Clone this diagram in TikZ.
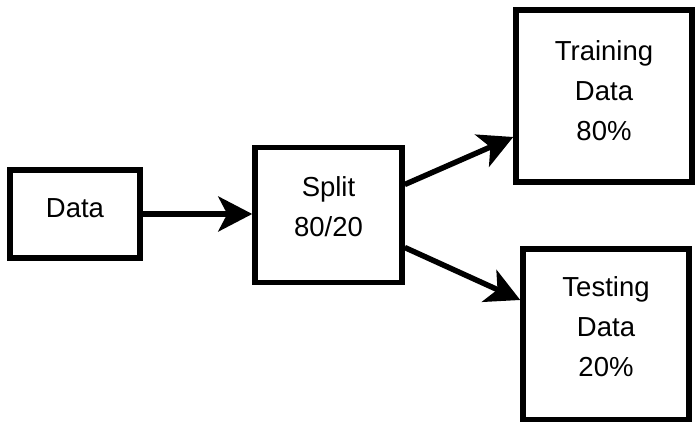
\documentclass[tikz,border=0pt]{standalone}
\usepackage{fontspec}
\setmainfont{Liberation Sans}
\usetikzlibrary{arrows.meta,calc}
\begin{document}
\begin{tikzpicture}[x=1pt,y=1pt,
  box/.style={draw=black, line width=5.5pt, fill=white, inner sep=0pt},
  lbl/.style={align=center, font=\fontsize{27.5}{40}\selectfont, inner sep=0pt},
  link/.style={line width=5.5pt, -{Stealth[length=34pt,width=35pt,inset=9pt]}}]
\useasboundingbox (0,0) rectangle (695,422);

% boxes
\node[box, minimum width=130pt, minimum height=88pt]  (data)  at (75,208)    {};
\node[box, minimum width=147pt, minimum height=135pt] (split) at (328.5,207) {};
\node[box, minimum width=176pt, minimum height=172pt] (train) at (604,326)   {};
\node[box, minimum width=166pt, minimum height=171pt] (test)  at (606,87.5)  {};

% labels
\node[lbl] (datatext)  at ($(data.center)+(0,6)$)    {Data};
\node[lbl] (splittext) at ($(split.center)+(0,8)$)   {Split\\80/20};
\node[lbl] (traintext) at ($(train.center)+(0,5.5)$) {Training\\Data\\80\%};
\node[lbl] (testtext)  at ($(test.center)+(0,7.5)$)  {Testing\\Data\\20\%};

% connectors
\draw[link] (data.east) -- (data.east -| split.west);
\draw[link] ($(split.east)+(0,30.5)$) -- ($(train.west)+(0,-41)$);
\draw[link] ($(split.east)+(0,-32.5)$) -- ($(test.west)+(0,34.5)$);
\end{tikzpicture}
\end{document}
